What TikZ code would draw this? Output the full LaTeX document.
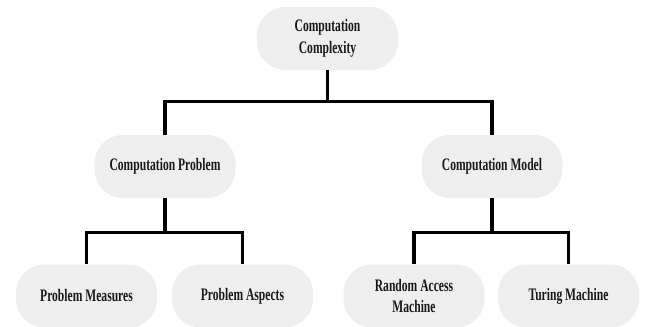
\documentclass[tikz,border=0pt]{standalone}
\usepackage{fontspec}
\setmainfont{Liberation Serif}[FakeStretch=0.66]
\usepackage{tikz}
\definecolor{boxgray}{RGB}{238,238,238}

\begin{document}
\begin{tikzpicture}[x=0.03cm,y=-0.03cm,
		box/.style={fill=boxgray, rounded corners=0.85cm, minimum width=4.23cm, minimum height=1.89cm,
			align=center, text=black!90, font=\fontsize{15}{18.5}\selectfont\bfseries},
		link/.style={line width=2.7pt}]
		\useasboundingbox (0,0) rectangle (645,326);
		
		\node[box] (cc) at (327.5,38.5) {Computation\\Complexity};
		
		\node[box] (cp) at (165,166.5) {Computation Problem};
		\node[box] (cm) at (492,166.5) {Computation Model};
		
		\node[box] (pm) at (86.5,296) {Problem Measures};
		\node[box] (pa) at (242.5,296) {Problem Aspects};
		\node[box] (ram) at (414,296) {Random Access\\Machine};
		\node[box] (tm) at (568.5,296) {Turing Machine};
		
		\draw[link] (cc.south) -- ++(0,31) -| (cp.north);
		\draw[link] (cc.south) -- ++(0,31) -| (cm.north);
		
		\draw[link] (cp.south) -- ++(0,34) -| (pm.north);
		\draw[link] (cp.south) -- ++(0,34) -| (pa.north);
		\draw[link] (cm.south) -- ++(0,34) -| (ram.north);
		\draw[link] (cm.south) -- ++(0,34) -| (tm.north);
\end{tikzpicture}
\end{document}
